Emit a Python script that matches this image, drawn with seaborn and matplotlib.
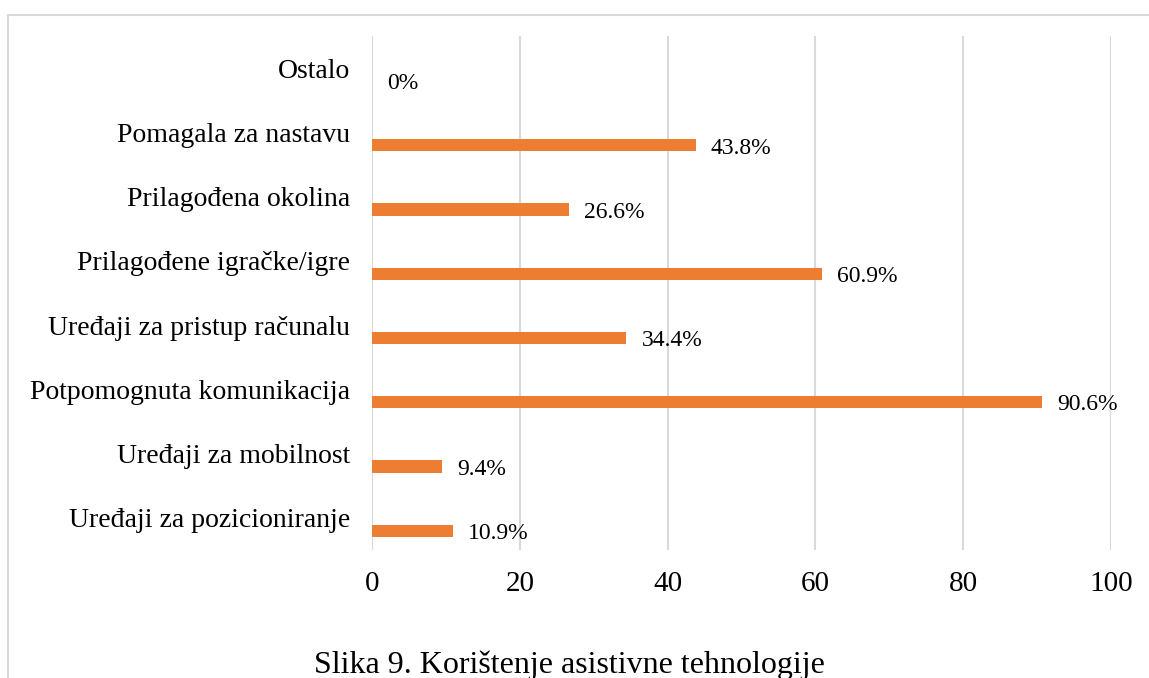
import matplotlib
matplotlib.use("Agg")
import matplotlib.pyplot as plt
import seaborn as sns
from matplotlib.patches import Rectangle

categories = [
    "Ostalo",
    "Pomagala za nastavu",
    "Prilagođena okolina",
    "Prilagođene igračke/igre",
    "Uređaji za pristup računalu",
    "Potpomognuta komunikacija",
    "Uređaji za mobilnost",
    "Uređaji za pozicioniranje",
]
values = [0, 43.8, 26.6, 60.9, 34.4, 90.6, 9.4, 10.9]
x_ticks = [0, 20, 40, 60, 80, 100]
caption = "Slika 9. Korištenje asistivne tehnologije"

sns.set_style("white")
plt.rcParams["font.family"] = ["Liberation Serif", "DejaVu Serif"]
plt.rcParams["text.color"] = "black"
plt.rcParams["xtick.color"] = "black"
plt.rcParams["ytick.color"] = "black"

fig = plt.figure(figsize=(11.49, 6.78), dpi=100)
ax = fig.add_axes([0.3238, 0.1888, 0.6431, 0.7581])

sns.barplot(x=values, y=categories, color="#ED7D31", width=0.19,
            saturation=1, linewidth=0, ax=ax)

# bars sit a bit below the category label, like the Excel original
for p in ax.patches:
    p.set_y(p.get_y() + 0.2)
    if p.get_width() == 0:
        p.set_visible(False)

for p, v in zip(ax.patches, values):
    ax.annotate(f"{v:g}%", xy=(p.get_width(), p.get_y() + p.get_height() / 2),
                xytext=(11, -2), textcoords="offset points",
                ha="left", va="center", fontsize=17, color="black")

ax.set_xlim(0, 100)
ax.set_xticks(x_ticks)
ax.grid(axis="x", color="#D9D9D9", linewidth=1.5)
ax.set_axisbelow(True)
for s in ax.spines.values():
    s.set_visible(False)
ax.tick_params(axis="x", length=0, pad=15, labelsize=21, labelcolor="black")
ax.tick_params(axis="y", length=0, pad=16, labelsize=20, labelcolor="black")
ax.set_xlabel("")
ax.set_ylabel("")

fig.patches.append(Rectangle((8 / 1149, -0.2), 1.2, 0.2 + 1 - 15 / 678,
                             transform=fig.transFigure, fill=False,
                             edgecolor="#D9D9D9", linewidth=1.5))

fig.text(0.496, 0.019, caption, ha="center", va="center", fontsize=23,
         color="black")

fig.savefig("out.png", dpi=100)
